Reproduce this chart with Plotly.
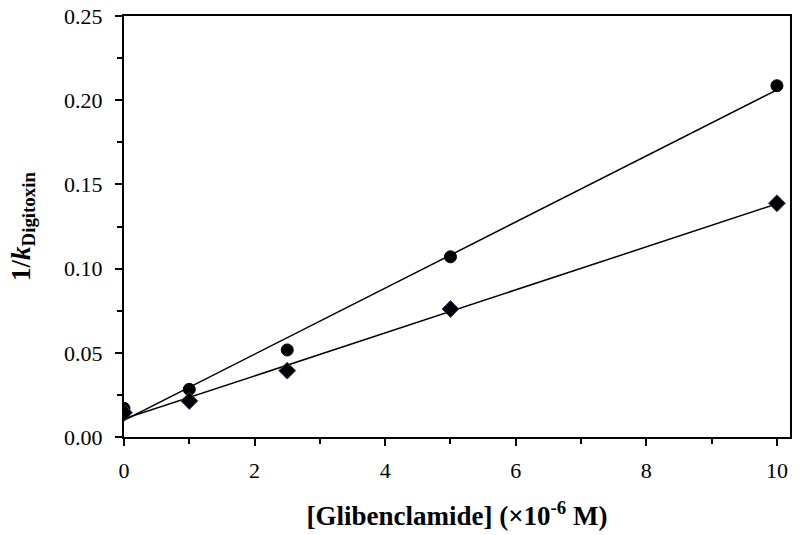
import numpy as np
import plotly.graph_objects as go

conc = [0, 1, 2.5, 5, 10]
circle_vals = [0.0170, 0.0283, 0.0517, 0.1070, 0.2086]
diamond_vals = [0.0144, 0.0214, 0.0394, 0.0760, 0.1388]
x_ticks = [0, 2, 4, 6, 8, 10]
y_ticks = [0.00, 0.05, 0.10, 0.15, 0.20, 0.25]

FONT = "Liberation Serif"

fig = go.Figure()

for vals, sym, size, lc in [(circle_vals, "circle", 12, "black"),
                            (diamond_vals, "diamond", 13, "#4a3a78")]:
    m, b = np.polyfit(conc, vals, 1)
    xs = [0, 10]
    fig.add_trace(go.Scatter(x=xs, y=[b + m * v for v in xs], mode="lines",
                             line=dict(color="black", width=1.5),
                             showlegend=False, hoverinfo="skip"))
    fig.add_trace(go.Scatter(x=conc, y=vals, mode="markers",
                             marker=dict(symbol=sym, size=size, color="black",
                                         line=dict(color=lc, width=1)),
                             showlegend=False))

axis_common = dict(
    showline=True, linecolor="black", linewidth=2, mirror=True,
    showgrid=False, zeroline=False, automargin=False,
    ticks="outside", ticklen=7, tickwidth=2, tickcolor="black",
    ticklabeloverflow="allow",
    tickfont=dict(family=FONT, size=22, color="black"),
)

fig.update_xaxes(
    range=[0, 10.2], tickvals=x_ticks, ticktext=[str(v) for v in x_ticks],
    minor=dict(dtick=1, tick0=0, ticks="outside", ticklen=5, tickwidth=2,
               tickcolor="black"),
    ticklabelstandoff=6,
    title=dict(text="<b>[Glibenclamide] (×10<sup>-6</sup> M)</b>",
               font=dict(family=FONT, size=27, color="black"), standoff=24),
    **axis_common,
)
fig.update_yaxes(
    range=[0, 0.25], tickvals=y_ticks, ticktext=[f"{v:.2f}" for v in y_ticks],
    minor=dict(dtick=0.025, tick0=0, ticks="outside", ticklen=5, tickwidth=2,
               tickcolor="black"),
    ticklabelstandoff=8,
    title=dict(text="<b>1/<i>k</i><sub>Digitoxin</sub></b>",
               font=dict(family=FONT, size=27, color="black"), standoff=26),
    **axis_common,
)

fig.update_layout(
    width=800, height=535,
    margin=dict(l=124, r=10, t=16, b=98),
    plot_bgcolor="white", paper_bgcolor="white",
    showlegend=False,
)

fig.write_html("out.html",
               config={"displayModeBar": False},
               post_script="document.body.style.margin='0';")
